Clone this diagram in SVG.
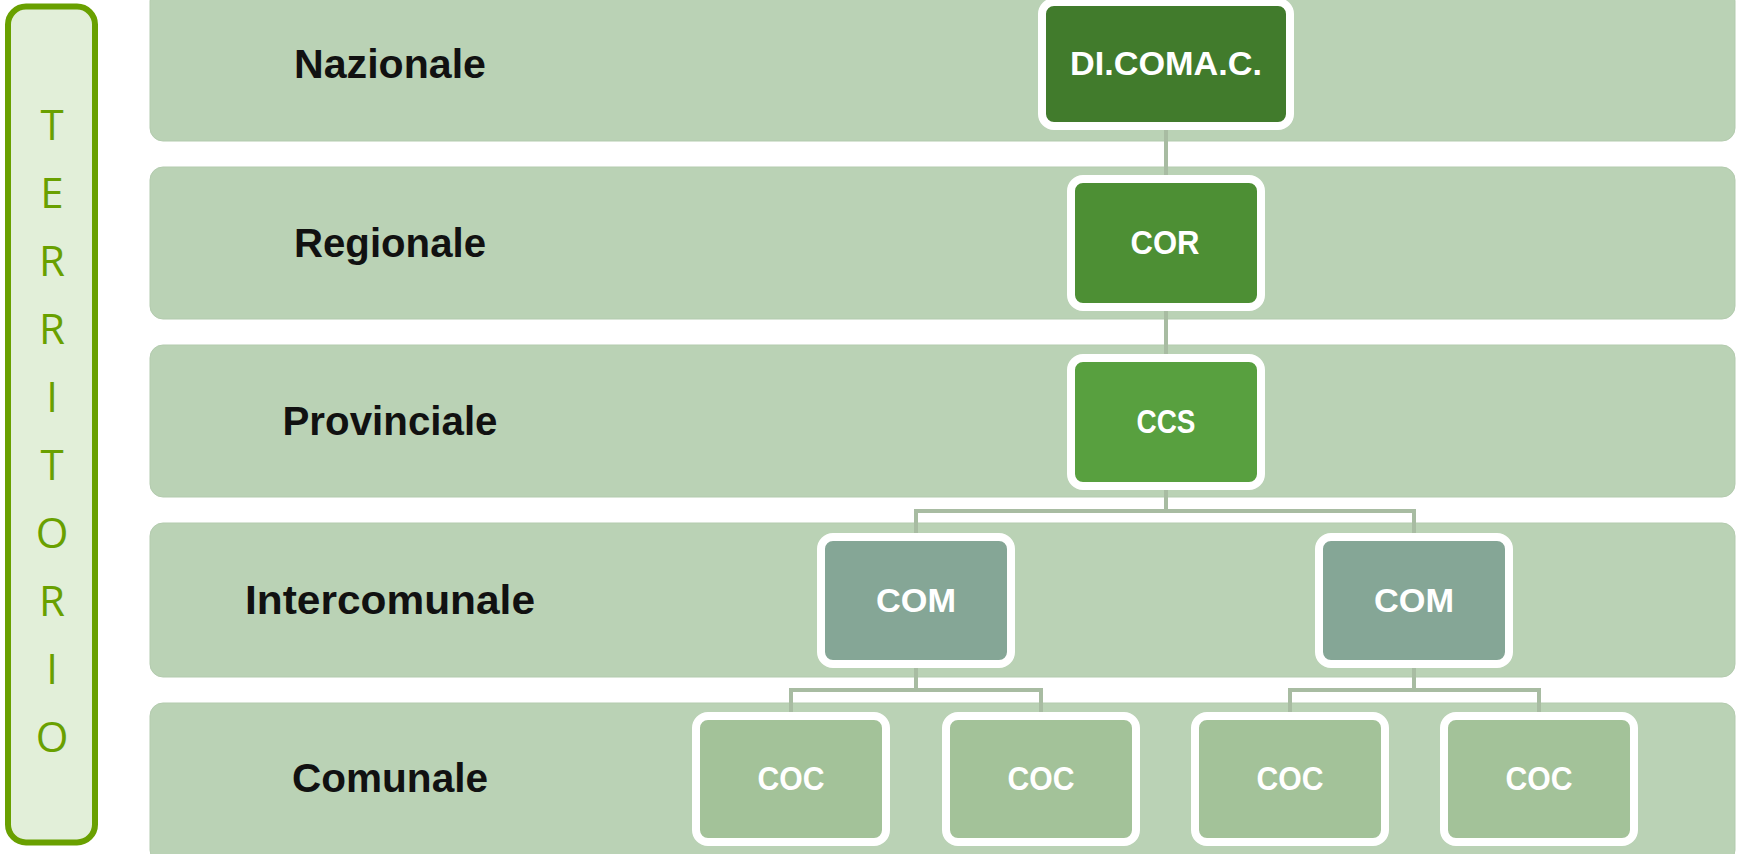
<svg xmlns="http://www.w3.org/2000/svg" width="1737" height="854" viewBox="0 0 1737 854">
  <style>
    .band { fill: #bad2b5; stroke: #b3cbae; stroke-width: 1; }
    .lvl { font-family: "Liberation Sans", Arial, sans-serif; font-weight: bold; font-size: 41px; fill: #111111; text-anchor: middle; }
    .node rect { stroke: #ffffff; stroke-width: 8; }
    .node text { font-family: "Liberation Sans", Arial, sans-serif; font-weight: bold; font-size: 33px; fill: #ffffff; text-anchor: middle; }
    .terr { font-family: "Open Sans", "Liberation Sans", sans-serif; font-size: 42px; fill: #69a000; text-anchor: middle; }
    .conn { fill: none; stroke: #a8bca2; stroke-width: 4; }
  </style>

  <rect width="1737" height="854" fill="#ffffff"/>

  <!-- side panel -->
  <g id="territorio">
    <rect x="8" y="6.5" width="87" height="836" rx="18" fill="#e2efd9" stroke="#69a000" stroke-width="6"/>
    <text class="terr" x="52" y="140">T</text>
    <text class="terr" x="52" y="208">E</text>
    <text class="terr" x="52" y="276">R</text>
    <text class="terr" x="52" y="344">R</text>
    <text class="terr" x="52" y="412">I</text>
    <text class="terr" x="52" y="480">T</text>
    <text class="terr" x="52" y="548">O</text>
    <text class="terr" x="52" y="616">R</text>
    <text class="terr" x="52" y="684">I</text>
    <text class="terr" x="52" y="752">O</text>
  </g>

  <!-- level bands -->
  <g id="bands">
    <g id="band-nazionale">
      <rect class="band" x="150" y="-12" width="1585" height="153" rx="13"/>
      <text class="lvl" x="390" y="78" textLength="192" lengthAdjust="spacingAndGlyphs">Nazionale</text>
    </g>
    <g id="band-regionale">
      <rect class="band" x="150" y="167" width="1585" height="152" rx="13"/>
      <text class="lvl" x="390" y="257" textLength="192" lengthAdjust="spacingAndGlyphs">Regionale</text>
    </g>
    <g id="band-provinciale">
      <rect class="band" x="150" y="345" width="1585" height="152" rx="13"/>
      <text class="lvl" x="390" y="435" textLength="215" lengthAdjust="spacingAndGlyphs">Provinciale</text>
    </g>
    <g id="band-intercomunale">
      <rect class="band" x="150" y="523" width="1585" height="154" rx="13"/>
      <text class="lvl" x="390" y="614" textLength="290" lengthAdjust="spacingAndGlyphs">Intercomunale</text>
    </g>
    <g id="band-comunale">
      <rect class="band" x="150" y="703" width="1585" height="160" rx="13"/>
      <text class="lvl" x="390" y="792" textLength="196" lengthAdjust="spacingAndGlyphs">Comunale</text>
    </g>
  </g>

  <!-- connectors -->
  <g id="connectors">
    <path class="conn" d="M1166 128 V177"/>
    <path class="conn" d="M1166 309 V356"/>
    <path class="conn" d="M1166 488 V511 M916 535 V511 H1414 V535"/>
    <path class="conn" d="M916 666 V690 M791 714 V690 H1041 V714"/>
    <path class="conn" d="M1414 666 V690 M1290 714 V690 H1539 V714"/>
  </g>

  <!-- nodes -->
  <g id="dicomac" class="node">
    <rect x="1042" y="2" width="248" height="124" rx="12" fill="#417b2c"/>
    <text x="1166" y="75" textLength="192" lengthAdjust="spacingAndGlyphs">DI.COMA.C.</text>
  </g>
  <g id="cor" class="node">
    <rect x="1071" y="179" width="190" height="128" rx="12" fill="#4d8f34"/>
    <text x="1165" y="254" textLength="69" lengthAdjust="spacingAndGlyphs">COR</text>
  </g>
  <g id="ccs" class="node">
    <rect x="1071" y="358" width="190" height="128" rx="12" fill="#58a03f"/>
    <text x="1166" y="433" textLength="59" lengthAdjust="spacingAndGlyphs">CCS</text>
  </g>
  <g id="com-1" class="node">
    <rect x="821" y="537" width="190" height="127" rx="12" fill="#85a696"/>
    <text x="916" y="612" textLength="80" lengthAdjust="spacingAndGlyphs">COM</text>
  </g>
  <g id="com-2" class="node">
    <rect x="1319" y="537" width="190" height="127" rx="12" fill="#85a696"/>
    <text x="1414" y="612" textLength="80" lengthAdjust="spacingAndGlyphs">COM</text>
  </g>
  <g id="coc-1" class="node">
    <rect x="696" y="716" width="190" height="126" rx="12" fill="#a3c299"/>
    <text x="791" y="790" textLength="67" lengthAdjust="spacingAndGlyphs">COC</text>
  </g>
  <g id="coc-2" class="node">
    <rect x="946" y="716" width="190" height="126" rx="12" fill="#a3c299"/>
    <text x="1041" y="790" textLength="67" lengthAdjust="spacingAndGlyphs">COC</text>
  </g>
  <g id="coc-3" class="node">
    <rect x="1195" y="716" width="190" height="126" rx="12" fill="#a3c299"/>
    <text x="1290" y="790" textLength="67" lengthAdjust="spacingAndGlyphs">COC</text>
  </g>
  <g id="coc-4" class="node">
    <rect x="1444" y="716" width="190" height="126" rx="12" fill="#a3c299"/>
    <text x="1539" y="790" textLength="67" lengthAdjust="spacingAndGlyphs">COC</text>
  </g>
</svg>
